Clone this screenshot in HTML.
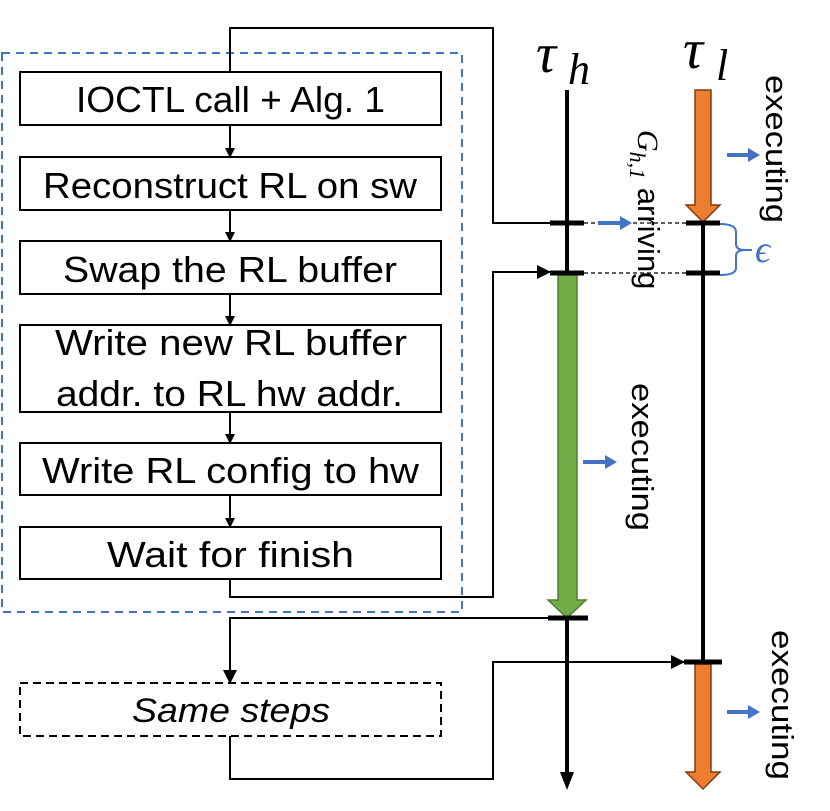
<!DOCTYPE html>
<html><head><style>html,body{margin:0;padding:0;background:#fff}svg{display:block}</style></head>
<body>
<svg width="830" height="811" viewBox="0 0 830 811" xmlns="http://www.w3.org/2000/svg" font-family="Liberation Sans, sans-serif">
<defs>
<marker id="a" markerWidth="10" markerHeight="10" refX="9" refY="5" orient="auto" markerUnits="userSpaceOnUse"><path d="M0,0 L10,5 L0,10 z" fill="#000"/></marker>
<marker id="b" markerWidth="14" markerHeight="14" refX="13" refY="7" orient="auto" markerUnits="userSpaceOnUse"><path d="M0,0 L14,7 L0,14 z" fill="#000"/></marker>
</defs>
<rect x="2" y="53" width="460" height="559" fill="none" stroke="#4472c4" stroke-width="2" stroke-dasharray="8,6"/>
<g fill="none" stroke="#000" stroke-width="2">
<rect x="20" y="72" width="421" height="53"/>
<rect x="20" y="157" width="421" height="53"/>
<rect x="20" y="241" width="421" height="53"/>
<rect x="20" y="325" width="421" height="87"/>
<rect x="20" y="443" width="421" height="52"/>
<rect x="20" y="527" width="421" height="52"/>
<rect x="20" y="683" width="421" height="53" stroke-dasharray="8,5"/>
</g>
<g font-size="36" fill="#000">
<text x="76" y="112" textLength="309" lengthAdjust="spacingAndGlyphs">IOCTL call + Alg. 1</text>
<text x="43" y="198" textLength="374" lengthAdjust="spacingAndGlyphs">Reconstruct RL on sw</text>
<text x="63" y="282" textLength="334" lengthAdjust="spacingAndGlyphs">Swap the RL buffer</text>
<text x="55" y="355" textLength="352" lengthAdjust="spacingAndGlyphs">Write new RL buffer</text>
<text x="56" y="406" textLength="347" lengthAdjust="spacingAndGlyphs">addr. to RL hw addr.</text>
<text x="42" y="483" textLength="377" lengthAdjust="spacingAndGlyphs">Write RL config to hw</text>
<text x="107" y="567" textLength="247" lengthAdjust="spacingAndGlyphs">Wait for finish</text>
<text x="132" y="722" font-style="italic" textLength="198" lengthAdjust="spacingAndGlyphs" font-size="34">Same steps</text>
</g>
<g fill="none" stroke="#000" stroke-width="2">
<path d="M230,125 V157" marker-end="url(#a)"/>
<path d="M230,210 V241" marker-end="url(#a)"/>
<path d="M230,294 V325" marker-end="url(#a)"/>
<path d="M230,412 V443" marker-end="url(#a)"/>
<path d="M230,495 V527" marker-end="url(#a)"/>
<path d="M230,72 V28 H493 V223 H552"/>
<path d="M230,579 V597 H493 V272 H550" marker-end="url(#b)"/>
<path d="M566,618 H230 V683" marker-end="url(#b)"/>
<path d="M230,736 V779 H493 V662 H684" marker-end="url(#b)"/>
</g>
<line x1="567" y1="90" x2="567" y2="775" stroke="#000" stroke-width="4"/>
<path d="M560,772 L574,772 L567,790 z" fill="#000"/>
<line x1="703" y1="222" x2="703" y2="665" stroke="#000" stroke-width="4"/>
<path d="M558,275 H577 V600 H586 L567,618 L548,600 H558 z" fill="#70ad47" stroke="#507e32" stroke-width="1.5"/>
<path d="M695,90 H711 V205 H720 L703,222 L686,205 H695 z" fill="#ed7d31" stroke="#843c0c" stroke-width="1.5"/>
<path d="M695,664 H711 V772 H720 L703,789 L686,772 H695 z" fill="#ed7d31" stroke="#843c0c" stroke-width="1.5"/>
<g stroke="#000" stroke-width="5">
<line x1="550" y1="223" x2="584" y2="223"/>
<line x1="550" y1="273" x2="584" y2="273"/>
<line x1="686" y1="223" x2="720" y2="223"/>
<line x1="686" y1="273" x2="720" y2="273"/>
<line x1="548" y1="618" x2="588" y2="618"/>
<line x1="684" y1="662" x2="722" y2="662"/>
</g>
<g stroke="#000" stroke-width="1.2" stroke-dasharray="4,3">
<line x1="584" y1="223" x2="686" y2="223"/>
<line x1="584" y1="273" x2="686" y2="273"/>
</g>
<path d="M720,224 Q736,224 736,232 V244 Q736,250 745,250 Q736,250 736,256 V268 Q736,275 720,275" fill="none" stroke="#4472c4" stroke-width="2"/>
<line x1="740" y1="250" x2="752" y2="250" stroke="#4472c4" stroke-width="2"/>
<text x="755" y="262" font-family="Liberation Serif, serif" font-style="italic" font-size="38" fill="#4472c4">ϵ</text>
<g fill="#4472c4">
<path d="M598,221 H620 V216 L632,223 L620,230 V225 H598 z"/>
<path d="M727,153 H748 V148 L760,155 L748,162 V157 H727 z"/>
<path d="M583,460 H605 V455 L617,462 L605,469 V464 H583 z"/>
<path d="M727,710 H748 V705 L760,712 L748,719 V714 H727 z"/>
</g>
<text x="536" y="72" font-family="Liberation Serif, serif" font-style="italic" font-size="56">τ</text>
<text x="568" y="84" font-family="Liberation Serif, serif" font-style="italic" font-size="44">h</text>
<text x="683" y="68" font-family="Liberation Serif, serif" font-style="italic" font-size="56">τ</text>
<text x="716" y="80" font-family="Liberation Serif, serif" font-style="italic" font-size="44">l</text>
<g font-size="31" fill="#000">
<text transform="translate(766,75) rotate(90)" textLength="148" lengthAdjust="spacingAndGlyphs">executing</text>
<text transform="translate(632,383) rotate(90)" textLength="148" lengthAdjust="spacingAndGlyphs">executing</text>
<text transform="translate(772,630) rotate(90)" textLength="150" lengthAdjust="spacingAndGlyphs">executing</text>
<text transform="translate(638,130) rotate(90)"><tspan font-family="Liberation Serif, serif" font-style="italic" font-size="30">G</tspan><tspan font-family="Liberation Serif, serif" font-style="italic" font-size="22" dy="8">h,1</tspan><tspan dy="-8" font-size="31"> arriving</tspan></text>
</g>
</svg>
</body></html>
